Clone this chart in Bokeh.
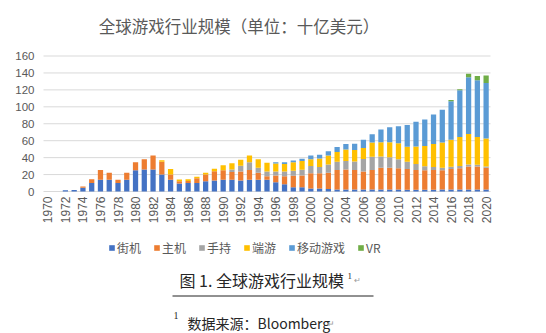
from bokeh.plotting import figure
from bokeh.models import (ColumnDataSource, Range1d, Legend, LegendItem, Label, Arrow)
from bokeh.core.properties import value
from bokeh.embed import file_html
from bokeh.resources import INLINE
from math import pi

# ---------------- data ----------------
years = list(range(1970, 2021))
series_names = ["街机", "主机", "手持", "端游", "移动游戏", "VR"]
colors = ["#4472C4", "#ED7D31", "#A5A5A5", "#FFC000", "#5B9BD5", "#70AD47"]

arcade = [0, 0, 1.5, 1.8, 4.5, 10, 14, 14, 10, 14,
          25, 26, 26, 20, 14, 9.5, 10, 10, 12, 13,
          14, 14, 13, 14, 14, 14, 11, 8.5, 5, 5,
          3.5, 3.5, 3, 2.5, 2.5, 2.5, 2.5, 2.5, 2.5, 2.5,
          2.5, 2, 2, 2, 2, 2.5, 2.5, 2.5, 2.5, 2.5, 2.5]
console = [0, 0, 0, 0, 1.5, 4.5, 11.5, 8, 4, 8,
           9.5, 12, 16.5, 15, 6, 2.5, 2.5, 5.5, 8, 11,
           11, 9, 10.5, 11.5, 8, 4, 8, 9.5, 13.5, 14,
           18, 18, 19, 23, 23.5, 23, 21, 23, 25.5, 25.5,
           25, 24.5, 23.5, 23.2, 23.5, 22.5, 24, 25, 27, 27, 25.5]
handheld = [0, 0, 0, 0, 0, 0, 0, 0, 0, 0,
            0, 0, 0, 0, 0, 0, 0, 0, 0, 0,
            0, 3, 7, 9, 6, 5.5, 4.5, 5.5, 6, 6.7,
            8.5, 7.5, 10, 9.5, 10, 10, 15, 15.5, 13.3, 12.5,
            10.5, 8.5, 7, 4.5, 3.5, 3, 2.7, 2.5, 2.5, 2, 1.5]
pc = [0, 0, 0, 0, 0, 0, 0, 0, 0, 0,
      0, 0, 0, 2, 6.5, 2.2, 2, 2, 2, 3,
      6, 7.5, 7, 8, 10, 10.5, 9.5, 9, 10, 10.2,
      8, 10, 10.5, 11.5, 13.5, 13.5, 13, 17, 17, 17.7,
      19, 17.7, 20.5, 24, 27, 30, 32, 34.5, 36, 33, 33]
mobile = [0, 0, 0, 0, 0, 0, 0, 0, 0, 0,
          0, 0, 0, 0, 0, 0, 0, 0, 0, 0,
          0, 0, 0, 0, 0, 0, 1.5, 2, 2, 2.8,
          4.5, 4.5, 5, 6, 6.5, 7.5, 9.5, 9.5, 15, 17.8,
          20, 25.8, 29.5, 31.3, 35, 38.5, 45.5, 55, 67, 67, 65.5]
vr = [0] * 46 + [1.2, 1.2, 4, 5, 9]

y_ticks = [0, 20, 40, 60, 80, 100, 120, 140, 160]
y_tick_labels = ["0", "20", "40", "60", "80", "100", "120", "140", "160"]
x_ticks = [1970, 1972, 1974, 1976, 1978, 1980, 1982, 1984, 1986, 1988, 1990,
           1992, 1994, 1996, 1998, 2000, 2002, 2004, 2006, 2008, 2010,
           2012, 2014, 2016, 2018, 2020]
x_tick_labels = ["1970", "1972", "1974", "1976", "1978", "1980", "1982", "1984",
                 "1986", "1988", "1990", "1992", "1994", "1996", "1998", "2000",
                 "2002", "2004", "2006", "2008", "2010", "2012", "2014", "2016",
                 "2018", "2020"]

title_text = "全球游戏行业规模（单位：十亿美元）"
caption_text = "图 1. 全球游戏行业规模"
footnote_text = "数据来源：Bloomberg"

# ---------------- layout constants (pixels) ----------------
W, H = 546, 333
PL, PR, PT, PB = 43, 490, 55.5, 191      # plot-area box inside the canvas
XMIN, XMAX = 1969.5, 2020.5              # category extent
YMIN, YMAX = 0, 160

xpp = (XMAX - XMIN) / (PR - PL)
ypp = (YMAX - YMIN) / (PB - PT)
x_range = Range1d(XMIN - PL * xpp, XMAX + (W - PR) * xpp)
y_range = Range1d(YMIN - (H - PB) * ypp, YMAX + PT * ypp)

p = figure(width=W, height=H, output_backend="svg", toolbar_location=None,
           x_range=x_range, y_range=y_range,
           x_axis_location=None, y_axis_location=None,
           min_border=0)
p.outline_line_color = None
p.grid.visible = False
p.background_fill_color = "white"
p.border_fill_color = "white"

# gridlines
grid_src = ColumnDataSource(dict(y=y_ticks, x0=[XMIN] * len(y_ticks),
                                 x1=[XMAX] * len(y_ticks)))
p.segment(x0="x0", x1="x1", y0="y", y1="y", source=grid_src,
          line_color="#D9D9D9", line_width=1)

# bars
src = ColumnDataSource(dict(year=years, a=arcade, c=console, h=handheld,
                            p=pc, m=mobile, v=vr))
keys = ["a", "c", "h", "p", "m", "v"]
renderers = p.vbar_stack(keys, x="year", width=0.6, color=colors, source=src,
                         line_color=None)

# axis tick labels
ysrc = ColumnDataSource(dict(y=y_ticks, t=y_tick_labels, x=[XMIN] * len(y_ticks)))
p.text(x="x", y="y", text="t", source=ysrc, x_offset=-9,
       text_align="right", text_baseline="middle",
       text_font=value("Liberation Sans"), text_font_size="11.5px",
       text_color="#595959")
xsrc = ColumnDataSource(dict(x=x_ticks, t=x_tick_labels, y=[YMIN] * len(x_ticks)))
p.text(x="x", y="y", text="t", source=xsrc, y_offset=5, angle=pi / 2,
       text_align="right", text_baseline="middle",
       text_font=value("Liberation Sans"), text_font_size="12px",
       text_color="#595959")

# legend
legend = Legend(items=[LegendItem(label=n, renderers=[r])
                       for n, r in zip(series_names, renderers)],
                orientation="horizontal", location=(108, H - 256),
                glyph_width=7, glyph_height=7, label_height=14,
                label_standoff=2, spacing=12, padding=0, margin=0,
                border_line_color=None, background_fill_alpha=0,
                label_text_font="Noto Sans CJK SC", label_text_font_size="12px",
                label_text_color="#595959")
p.add_layout(legend, "center")

# texts (screen px: x from left, y from top converted)
def add_label(px, py, text, size, font, color, align="left", baseline="middle"):
    p.add_layout(Label(x=px, y=H - py, x_units="screen", y_units="screen", text=text,
                       text_font=font, text_font_size=size, text_color=color,
                       text_align=align, text_baseline=baseline))

add_label(238.5, 25, title_text, "16.5px", "Noto Sans CJK SC", "#595959", align="center")
add_label(179, 279, caption_text, "16px", "Noto Sans CJK SC", "#262626")
add_label(347, 275, "1", "9px", "Liberation Serif", "#262626")
add_label(353, 280, "↵", "8px", "Liberation Sans", "#9a9a9a")
p.add_layout(Arrow(x_start=172, y_start=H - 295.5, x_end=373, y_end=H - 295.5,
                   start_units="screen", end_units="screen", end=None,
                   line_color="#222222", line_width=1))
add_label(173, 315, "1", "10px", "Liberation Serif", "#262626")
add_label(187, 322, footnote_text, "14px", "Noto Sans CJK SC", "#262626")
add_label(326, 323, "↵", "9px", "Liberation Sans", "#9a9a9a")

open("out.html", "w").write(file_html(p, INLINE))
